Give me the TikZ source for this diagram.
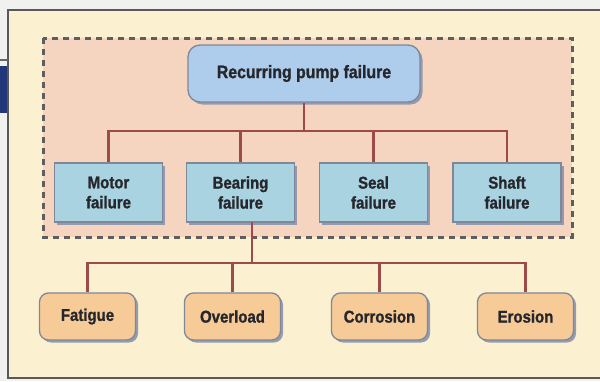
\documentclass[tikz,border=0pt]{standalone}
\usepackage{fontspec}
\setmainfont{Liberation Sans}[FakeStretch=0.88, BoldFeatures={FakeBold=1.2}]
\usetikzlibrary{shadows}
\definecolor{outerbg}{HTML}{F1F1EF}
\definecolor{framebg}{HTML}{FBF1D1}
\definecolor{zonebg}{HTML}{F6D5C0}
\definecolor{zoneline}{HTML}{5E5E5E}
\definecolor{topfill}{HTML}{AECDEC}
\definecolor{midfill}{HTML}{A9D3E1}
\definecolor{botfill}{HTML}{F7CB98}
\definecolor{edgeline}{HTML}{7F8799}
\definecolor{conn}{HTML}{9C4B48}
\definecolor{txt}{HTML}{26272C}
\definecolor{tabblue}{HTML}{22387A}
\definecolor{shade}{HTML}{8A93AE}
\tikzset{
  x=1pt, y=-1pt,
  base/.style={draw=edgeline, line width=1.3pt, text=txt, font=\bfseries\fontsize{17}{20}\selectfont,
    align=center, inner sep=0pt, drop shadow={shadow xshift=2.5pt, shadow yshift=-2.5pt, fill=shade, opacity=0.9}},
  topbox/.style={base, fill=topfill, rounded corners=12pt, minimum width=232pt, minimum height=57pt,
    font=\bfseries\fontsize{18}{20}\selectfont},
  midbox/.style={base, fill=midfill, minimum width=108pt, minimum height=59pt},
  botbox/.style={base, fill=botfill, rounded corners=9pt, minimum width=96pt, minimum height=47pt},
  link/.style={draw=conn, line width=2.6pt},
}
\begin{document}
\begin{tikzpicture}
\useasboundingbox (0,0) rectangle (600,381);
\fill[outerbg] (0,0) rectangle (600,381);
% frame
\fill[framebg] (8,10) rectangle (600,378);
\draw[line width=2pt, draw=black!65] (600,10) -- (8,10) -- (8,378) -- (600,378);
% left tab
\draw[line width=1.5pt, draw=black!60] (0,60) -- (8,60);
\fill[tabblue] (0,66) rectangle (7,113);
% dashed zone
\draw[fill=zonebg, draw=zoneline, line width=3pt, dash pattern=on 6pt off 5pt] (43,38) rectangle (572,237);

% nodes
\node[topbox] (top) at (304,73.5) {Recurring pump failure};
\node[midbox] (motor) at (108.5,192.5) {Motor\\failure};
\node[midbox] (bearing) at (240.5,192.5) {Bearing\\failure};
\node[midbox] (seal) at (373.5,192.5) {Seal\\failure};
\node[midbox] (shaft) at (507,192.5) {Shaft\\failure};
\node[botbox] (fatigue) at (87.5,316.5) {Fatigue};
\node[botbox] (overload) at (232.5,316.5) {Overload};
\node[botbox] (corrosion) at (379.5,316.5) {Corrosion};
\node[botbox] (erosion) at (525.5,316.5) {Erosion};

% connectors
\coordinate (bus1) at (0,131);
\coordinate (bus2) at (0,263);
\coordinate (bdrop) at (252,222);
\draw[link] (top.south) -- (top.south |- bus1);
\draw[link] (motor.north) -- (motor.north |- bus1) -- (shaft.north |- bus1) -- (shaft.north);
\draw[link] (bearing.north) -- (bearing.north |- bus1);
\draw[link] (seal.north) -- (seal.north |- bus1);
\draw[link] (bdrop) -- (bdrop |- bus2);
\draw[link] (fatigue.north) -- (fatigue.north |- bus2) -- (erosion.north |- bus2) -- (erosion.north);
\draw[link] (overload.north) -- (overload.north |- bus2);
\draw[link] (corrosion.north) -- (corrosion.north |- bus2);
\end{tikzpicture}
\end{document}
